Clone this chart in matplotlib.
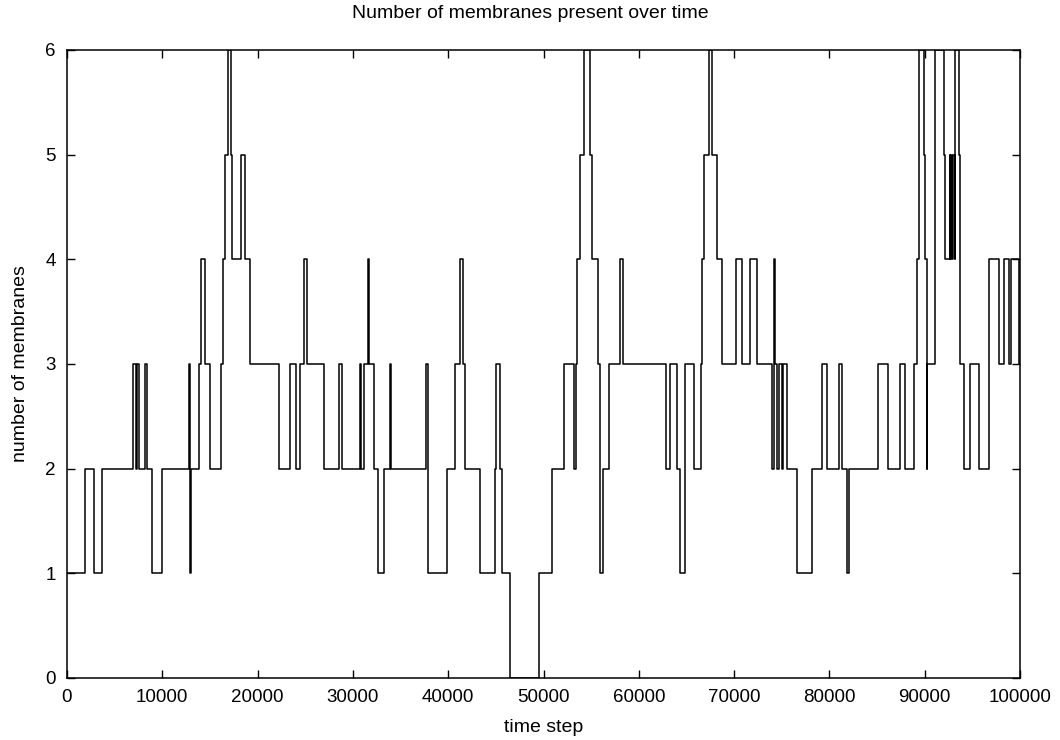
import matplotlib
matplotlib.use("Agg")
import matplotlib.pyplot as plt

plt.rcParams['font.family'] = ['Liberation Sans', 'DejaVu Sans']

# time steps at which the count changes, and the count from that step on
change_steps = [
    0, 1940, 2810, 3690, 6960, 7250, 7350, 7600, 8230, 8420, 8930, 9980,
    12760, 12860, 12960, 13830, 14080, 14530, 14980, 16170, 16380, 16630,
    16910, 17220, 17330, 18310, 18650, 19250, 22220, 23450, 24080, 24490,
    24900, 25150, 26940, 28590, 28870, 30720, 30890, 31140, 31550, 31650,
    32260, 32610, 33310, 33870, 33970, 37650, 37900, 39880, 40750, 41210,
    41560, 41800, 43380, 44950, 45060, 45400, 45650, 46450, 49490, 50890,
    52190, 53240, 53410, 53520, 53870, 54290, 54840, 55090, 55680, 55970,
    56250, 56840, 58060, 58340, 62850, 63300, 64010, 64290, 64880, 65760,
    66530, 66630, 66800, 67330, 67680, 68200, 68730, 70230, 70830, 71630,
    72400, 73970, 74140, 74170, 74250, 74490, 74730, 75020, 75180, 75540,
    76600, 78170, 79220, 79750, 80970, 81320, 81840, 82010, 85050, 86200,
    87430, 87960, 88840, 89200, 89450, 89880, 90000, 90200, 90260, 91110,
    91980, 92100, 92620, 92700, 92800, 92900, 93000, 93150, 93210, 93550,
    93700, 94080, 94780, 95730, 96700, 97750, 98270, 98870, 99080, 99850,
]
membrane_counts = [
    1, 2, 1, 2, 3, 2, 3, 2, 3, 2, 1, 2,
    3, 1, 2, 3, 4, 3, 2, 3, 4, 5,
    6, 5, 4, 5, 4, 3, 2, 3, 2, 3,
    4, 3, 2, 3, 2, 3, 2, 3, 4, 3,
    2, 1, 2, 3, 2, 3, 1, 2, 3, 4,
    3, 2, 1, 2, 3, 2, 1, 0, 1, 2,
    3, 2, 3, 4, 5, 6, 5, 4, 3, 1,
    2, 3, 4, 3, 2, 3, 2, 1, 3, 2,
    3, 4, 5, 6, 5, 4, 3, 4, 3, 4,
    3, 2, 3, 4, 3, 2, 3, 2, 3, 2,
    1, 2, 3, 2, 3, 2, 1, 2, 3, 2,
    3, 2, 3, 4, 6, 5, 4, 2, 3, 6,
    5, 4, 5, 4, 5, 4, 5, 4, 6, 5,
    3, 2, 3, 2, 4, 3, 4, 3, 4, 3,
]
end_step = 100000

x_ticks = list(range(0, 100001, 10000))
y_ticks = [0, 1, 2, 3, 4, 5, 6]

fig = plt.figure(figsize=(10.6, 7.4), dpi=100)
W, H = 1060, 740
L, R, T, B = 67, 1020, 50, 678
ax = fig.add_axes([L / W, 1 - B / H, (R - L) / W, (B - T) / H])

xs = change_steps + [end_step]
ys = membrane_counts + [membrane_counts[-1]]
ax.step(xs, ys, where='post', color='black', linewidth=1.1)

ax.set_xlim(0, 100000)
ax.set_ylim(0, 6)
ax.set_xticks(x_ticks)
ax.set_yticks(y_ticks)
ax.set_xticklabels([str(v) for v in x_ticks])
ax.set_yticklabels([str(v) for v in y_ticks])
ax.tick_params(direction='in', length=6, width=1.0, top=True, right=True,
               labelsize=13.5, pad=8, colors='black')
for s in ax.spines.values():
    s.set_linewidth(1.1)
    s.set_color('black')

ax.set_xlabel('time step', fontsize=14)
ax.set_ylabel('number of membranes', fontsize=14)
ax.xaxis.set_label_coords(0.5, -(719 - B) / (B - T))
ax.yaxis.set_label_coords(-(L - 29) / (R - L), 0.5)
fig.text(0.5, 1 - 14 / H, 'Number of membranes present over time',
         ha='center', va='center', fontsize=14)

fig.savefig('out.png', dpi=100, facecolor='white')
